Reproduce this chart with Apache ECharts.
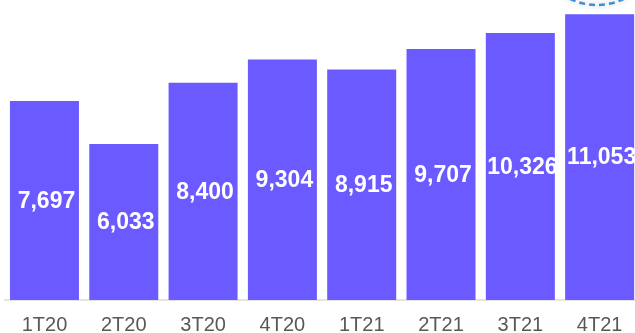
<!DOCTYPE html>
<html><head><meta charset="utf-8">
<script src="https://cdn.jsdelivr.net/npm/echarts@6/dist/echarts.min.js"></script>
<style>html,body{margin:0;padding:0;background:#fff}#c{width:635px;height:333px}</style>
</head><body><div id="c"></div>
<script>
var categories = ['1T20','2T20','3T20','4T20','1T21','2T21','3T21','4T21'];
var values = [7697, 6033, 8400, 9304, 8915, 9707, 10326, 11053];
var chart = echarts.init(document.getElementById('c'));
chart.setOption({
  animation: false,
  grid: {left: 4.8, top: 0, width: 634.5, bottom: 33, containLabel: false, outerBoundsMode: 'none'},
  xAxis: {
    type: 'category', data: categories, offset: 1.5,
    axisLine: {lineStyle: {color: '#dcdcdc', width: 1.5}},
    axisTick: {show: false},
    axisLabel: {color: '#585858', fontSize: 20, fontFamily: 'Liberation Sans, Arial, sans-serif', margin: 14}
  },
  yAxis: {type: 'value', min: 0, max: 11605, show: false, splitLine: {show: false}},
  series: [{
    type: 'bar', data: values, barCategoryGap: '13%',
    itemStyle: {color: '#6b5aff'},
    label: {
      show: true, position: 'inside', color: '#fff', fontWeight: 'bold', fontSize: 23,
      fontFamily: 'Liberation Sans, Arial, sans-serif', offset: [2, 1],
      formatter: function (p) { return p.value.toLocaleString('en-US'); }
    }
  }],
  graphic: [{
    type: 'circle', shape: {cx: 597, cy: -57.5, r: 62.5},
    style: {fill: 'rgba(255,255,255,0)', stroke: '#3d8fd6', lineWidth: 2.5, lineDash: [6, 4],
      shadowBlur: 6, shadowColor: 'rgba(0,0,0,0.25)'}
  }]
});
</script></body></html>
